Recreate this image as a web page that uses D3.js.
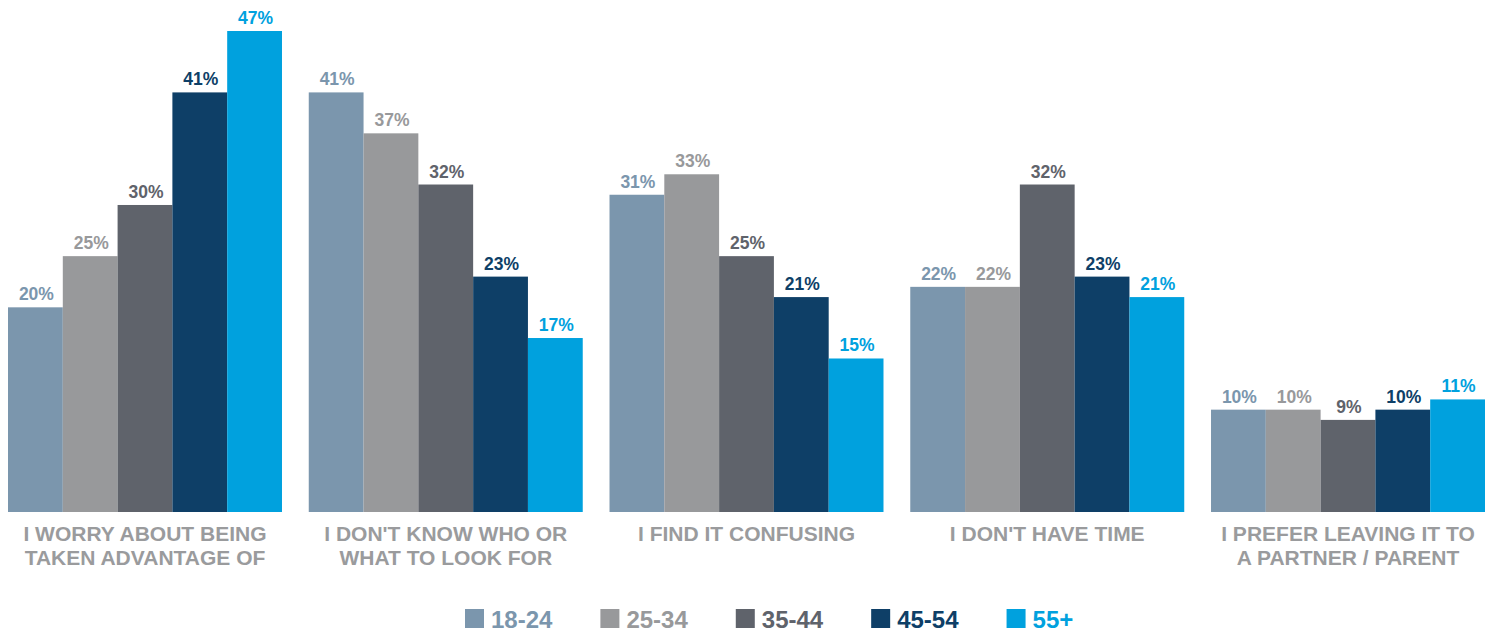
<!DOCTYPE html>
<html>
<head>
<meta charset="utf-8">
<script src="https://cdn.jsdelivr.net/npm/d3@7"></script>
<style>
  html, body { margin: 0; padding: 0; background: #ffffff; }
  svg { display: block; font-family: "Liberation Sans", Arial, Helvetica, sans-serif; }
</style>
</head>
<body>
<svg id="chart" width="1493" height="632"></svg>
<script>
// Reasons for not seeking advice, by age group (%)
const categories = [
  ["I WORRY ABOUT BEING", "TAKEN ADVANTAGE OF"],
  ["I DON'T KNOW WHO OR", "WHAT TO LOOK FOR"],
  ["I FIND IT CONFUSING"],
  ["I DON'T HAVE TIME"],
  ["I PREFER LEAVING IT TO", "A PARTNER / PARENT"]
];
const ageGroups = ["18-24", "25-34", "35-44", "45-54", "55+"];
const values1824 = [20, 41, 31, 22, 10];
const values2534 = [25, 37, 33, 22, 10];
const values3544 = [30, 32, 25, 32, 9];
const values4554 = [41, 23, 21, 23, 10];
const values55 = [47, 17, 15, 21, 11];
const seriesColors = ["#7b96ad", "#98999b", "#5f636b", "#0e3f67", "#00a1de"];

const seriesValues = [values1824, values2534, values3544, values4554, values55];
const rows = categories.map((lines, i) => ({
  key: lines.join(" "),
  lines,
  values: ageGroups.map((g, j) => ({ group: g, index: j, value: seriesValues[j][i] }))
}));

const svg = d3.select("#chart");

const x0 = d3.scaleBand()
  .domain(rows.map(d => d.key))
  .range([8, 1485])
  .paddingInner(0.089)
  .paddingOuter(0);

const x1 = d3.scaleBand()
  .domain(ageGroups)
  .range([0, x0.bandwidth()])
  .padding(0);

const y = d3.scaleLinear()
  .domain([0, 47])
  .range([512, 31]);

const color = d3.scaleOrdinal().domain(ageGroups).range(seriesColors);

const groups = svg.append("g").selectAll("g")
  .data(rows)
  .join("g")
  .attr("transform", d => `translate(${x0(d.key)},0)`);

groups.selectAll("rect")
  .data(d => d.values)
  .join("rect")
  .attr("x", d => x1(d.group))
  .attr("y", d => y(d.value))
  .attr("width", x1.bandwidth())
  .attr("height", d => y(0) - y(d.value))
  .attr("fill", d => color(d.group));

groups.selectAll("text.value")
  .data(d => d.values)
  .join("text")
  .attr("class", "value")
  .attr("x", d => x1(d.group) + x1.bandwidth() / 2 + 1)
  .attr("y", d => y(d.value) - 7)
  .attr("text-anchor", "middle")
  .attr("font-size", "17.5px")
  .attr("font-weight", "bold")
  .attr("fill", d => color(d.group))
  .text(d => d.value + "%");

// Category labels under each group
const catLabels = groups.append("text")
  .attr("x", x0.bandwidth() / 2)
  .attr("y", 541)
  .attr("text-anchor", "middle")
  .attr("font-size", "21px")
  .attr("font-weight", "bold")
  .attr("fill", "#9a9b9d");

catLabels.selectAll("tspan")
  .data(d => d.lines)
  .join("tspan")
  .attr("x", x0.bandwidth() / 2)
  .attr("dy", (d, i) => i === 0 ? 0 : 24)
  .text(d => d);

// Legend
const legend = svg.append("g").attr("transform", "translate(465,0)");
let cursor = 0;
ageGroups.forEach(g => {
  const item = legend.append("g").attr("transform", `translate(${cursor},0)`);
  item.append("rect")
    .attr("x", 0)
    .attr("y", 609)
    .attr("width", 19)
    .attr("height", 19)
    .attr("fill", color(g));
  const t = item.append("text")
    .attr("x", 26)
    .attr("y", 628)
    .attr("font-size", "24px")
    .attr("font-weight", "bold")
    .attr("fill", color(g))
    .text(g);
  cursor += 26 + t.node().getComputedTextLength() + 48;
});
</script>
</body>
</html>
